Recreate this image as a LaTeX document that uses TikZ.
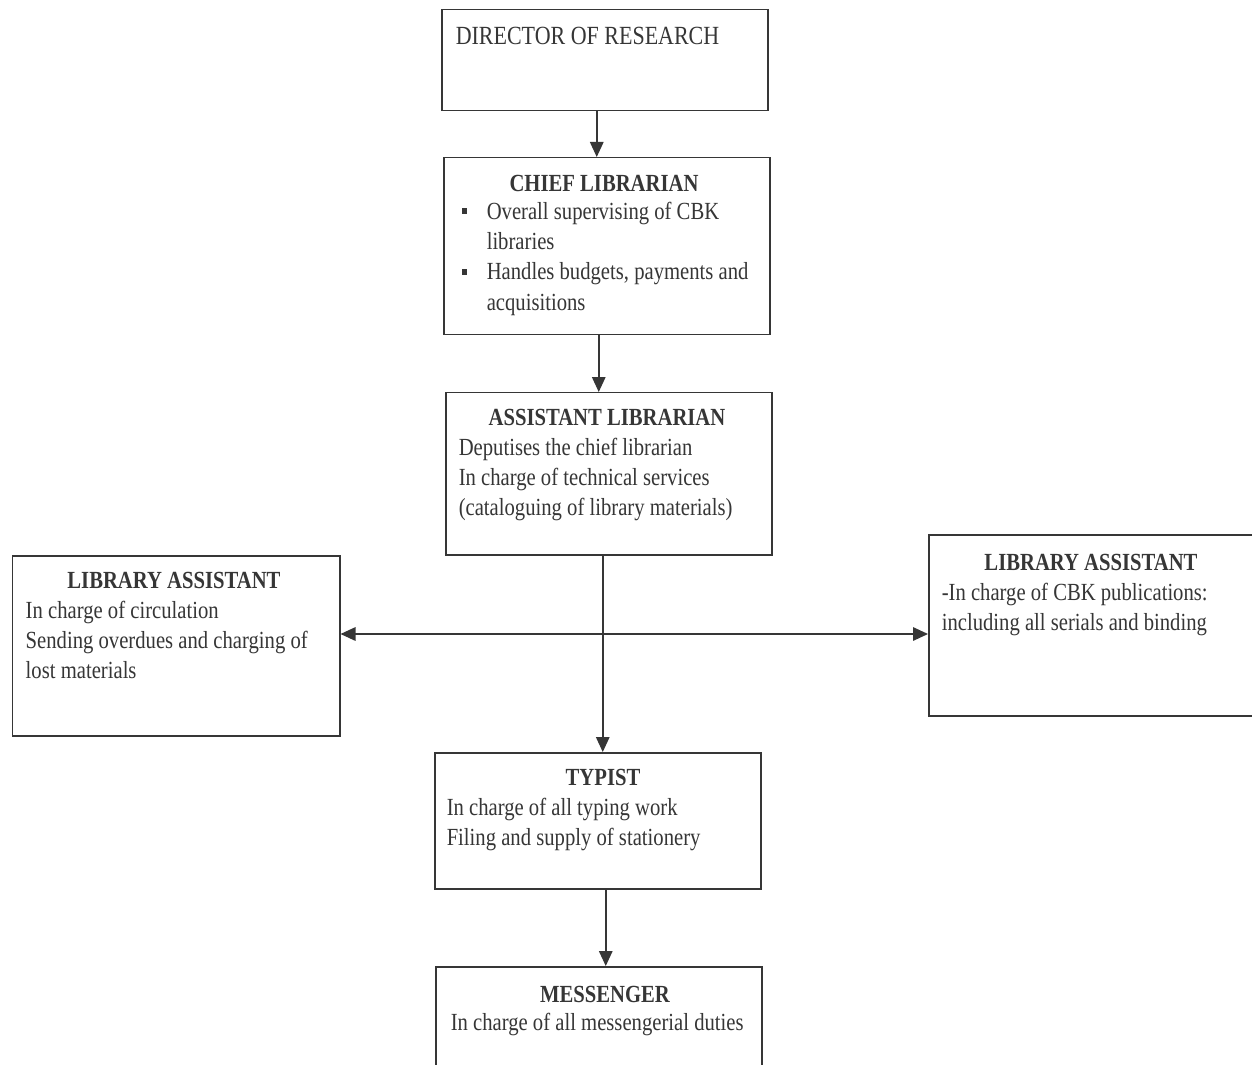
\documentclass[tikz,border=0pt]{standalone}
\usepackage{fontspec}
\setmainfont{Liberation Serif}[FakeStretch=0.84]
\usepackage{tikz}
\usetikzlibrary{arrows.meta, positioning, calc}

\definecolor{ink}{HTML}{363636}
\newcommand{\sqbullet}{\raisebox{0.45ex}{\rule{1mm}{1.1mm}}}

\begin{document}
\begin{tikzpicture}[
                                        line width=0.85pt,
                                        draw=ink,
                                        arr/.style={ink, -{Triangle[length=3mm,width=2.7mm]}},
                                        box/.style={rectangle, draw=ink, inner sep=0pt, anchor=north west},
                                        head/.style={anchor=base, inner sep=0pt, text=ink, font=\fontsize{14}{17.3}\selectfont\bfseries},
                                        body/.style={anchor=base west, inner sep=0pt, text=ink, font=\fontsize{14}{17.3}\selectfont}
                                ]
                                \useasboundingbox (0,0) rectangle (25.04,-21.28);
                                \clip (0,0) rectangle (25.04,-21.28);
                                \fill[white] (0,0) rectangle (25.04,-21.28);

                                % boxes
                                \node [box, minimum width=6.52cm, minimum height=2.02cm] (dir) at (8.82,-0.18) {};
                                \node [box, minimum width=6.52cm, minimum height=3.54cm] (chief) at (8.86,-3.14) {};
                                \node [box, minimum width=6.52cm, minimum height=3.24cm] (asst) at (8.90,-7.84) {};
                                \node [box, minimum width=6.54cm, minimum height=3.60cm] (la) at (0.24,-11.10) {};
                                \node [box, minimum width=6.64cm, minimum height=3.62cm] (ra) at (18.56,-10.68) {};
                                \node [box, minimum width=6.52cm, minimum height=2.72cm] (typ) at (8.68,-15.04) {};
                                \node [box, minimum width=6.52cm, minimum height=2.40cm] (mes) at (8.70,-19.32) {};

                                % texts
                                \node [body, font=\fontsize{14.9}{18}\selectfont] (dirtxt) at (9.10,-0.90) {DIRECTOR OF RESEARCH};

                                \node [head] (chiefhd) at (12.08,-3.82) {CHIEF LIBRARIAN};
                                \node [body] (chieftxt) at (9.22,-4.38) {\begin{tabular}[t]{@{}p{0.5cm}@{}l@{}}
                                        \sqbullet & Overall supervising of CBK\\
                                                  & libraries\\
                                        \sqbullet & Handles budgets, payments and\\
                                                  & acquisitions
                                \end{tabular}};

                                \node [head] (assthd) at (12.14,-8.50) {ASSISTANT LIBRARIAN};
                                \node [body] (assttxt) at (9.16,-9.10) {\begin{tabular}[t]{@{}l@{}}
                                        Deputises the chief librarian\\
                                        In charge of technical services\\
                                        (cataloguing of library materials)
                                \end{tabular}};

                                \node [head] (lahd) at (3.48,-11.76) {LIBRARY ASSISTANT};
                                \node [body] (latxt) at (0.50,-12.36) {\begin{tabular}[t]{@{}l@{}}
                                        In charge of circulation\\
                                        Sending overdues and charging of\\
                                        lost materials
                                \end{tabular}};

                                \node [head] (rahd) at (21.82,-11.40) {LIBRARY ASSISTANT};
                                \node [body] (ratxt) at (18.82,-12.00) {\begin{tabular}[t]{@{}l@{}}
                                        -In charge of CBK publications:\\
                                        including all serials and binding
                                \end{tabular}};

                                \node [head] (typhd) at (12.06,-15.70) {TYPIST};
                                \node [body] (typtxt) at (8.92,-16.30) {\begin{tabular}[t]{@{}l@{}}
                                        In charge of all typing work\\
                                        Filing and supply of stationery
                                \end{tabular}};

                                \node [head] (meshd) at (12.10,-20.04) {MESSENGER};
                                \node [body] (mestxt) at (9.00,-20.60) {In charge of all messengerial duties};

                                % connectors
                                \draw [arr] ([xshift=-1.6mm]dir.south) -- ([xshift=-1.6mm]dir.south |- chief.north);
                                \draw [arr] ([xshift=-1.6mm]chief.south) -- ([xshift=-1.6mm]chief.south |- asst.north);
                                \draw [arr] ([xshift=-1.2mm]asst.south) -- ([xshift=-1.2mm]asst.south |- typ.north);
                                \coordinate (hub) at ($([xshift=-1.2mm]asst.south)!0.5!([xshift=-1.2mm]asst.south |- typ.north)$);
                                \coordinate (mid) at (hub |- 0,-12.68);
                                \draw [arr] (mid) -- (la.east |- mid);
                                \draw [arr] (mid) -- (ra.west |- mid);
                                \draw [arr] ([xshift=1.6mm]typ.south) -- ([xshift=1.6mm]typ.south |- mes.north);
                        \end{tikzpicture}
\end{document}
